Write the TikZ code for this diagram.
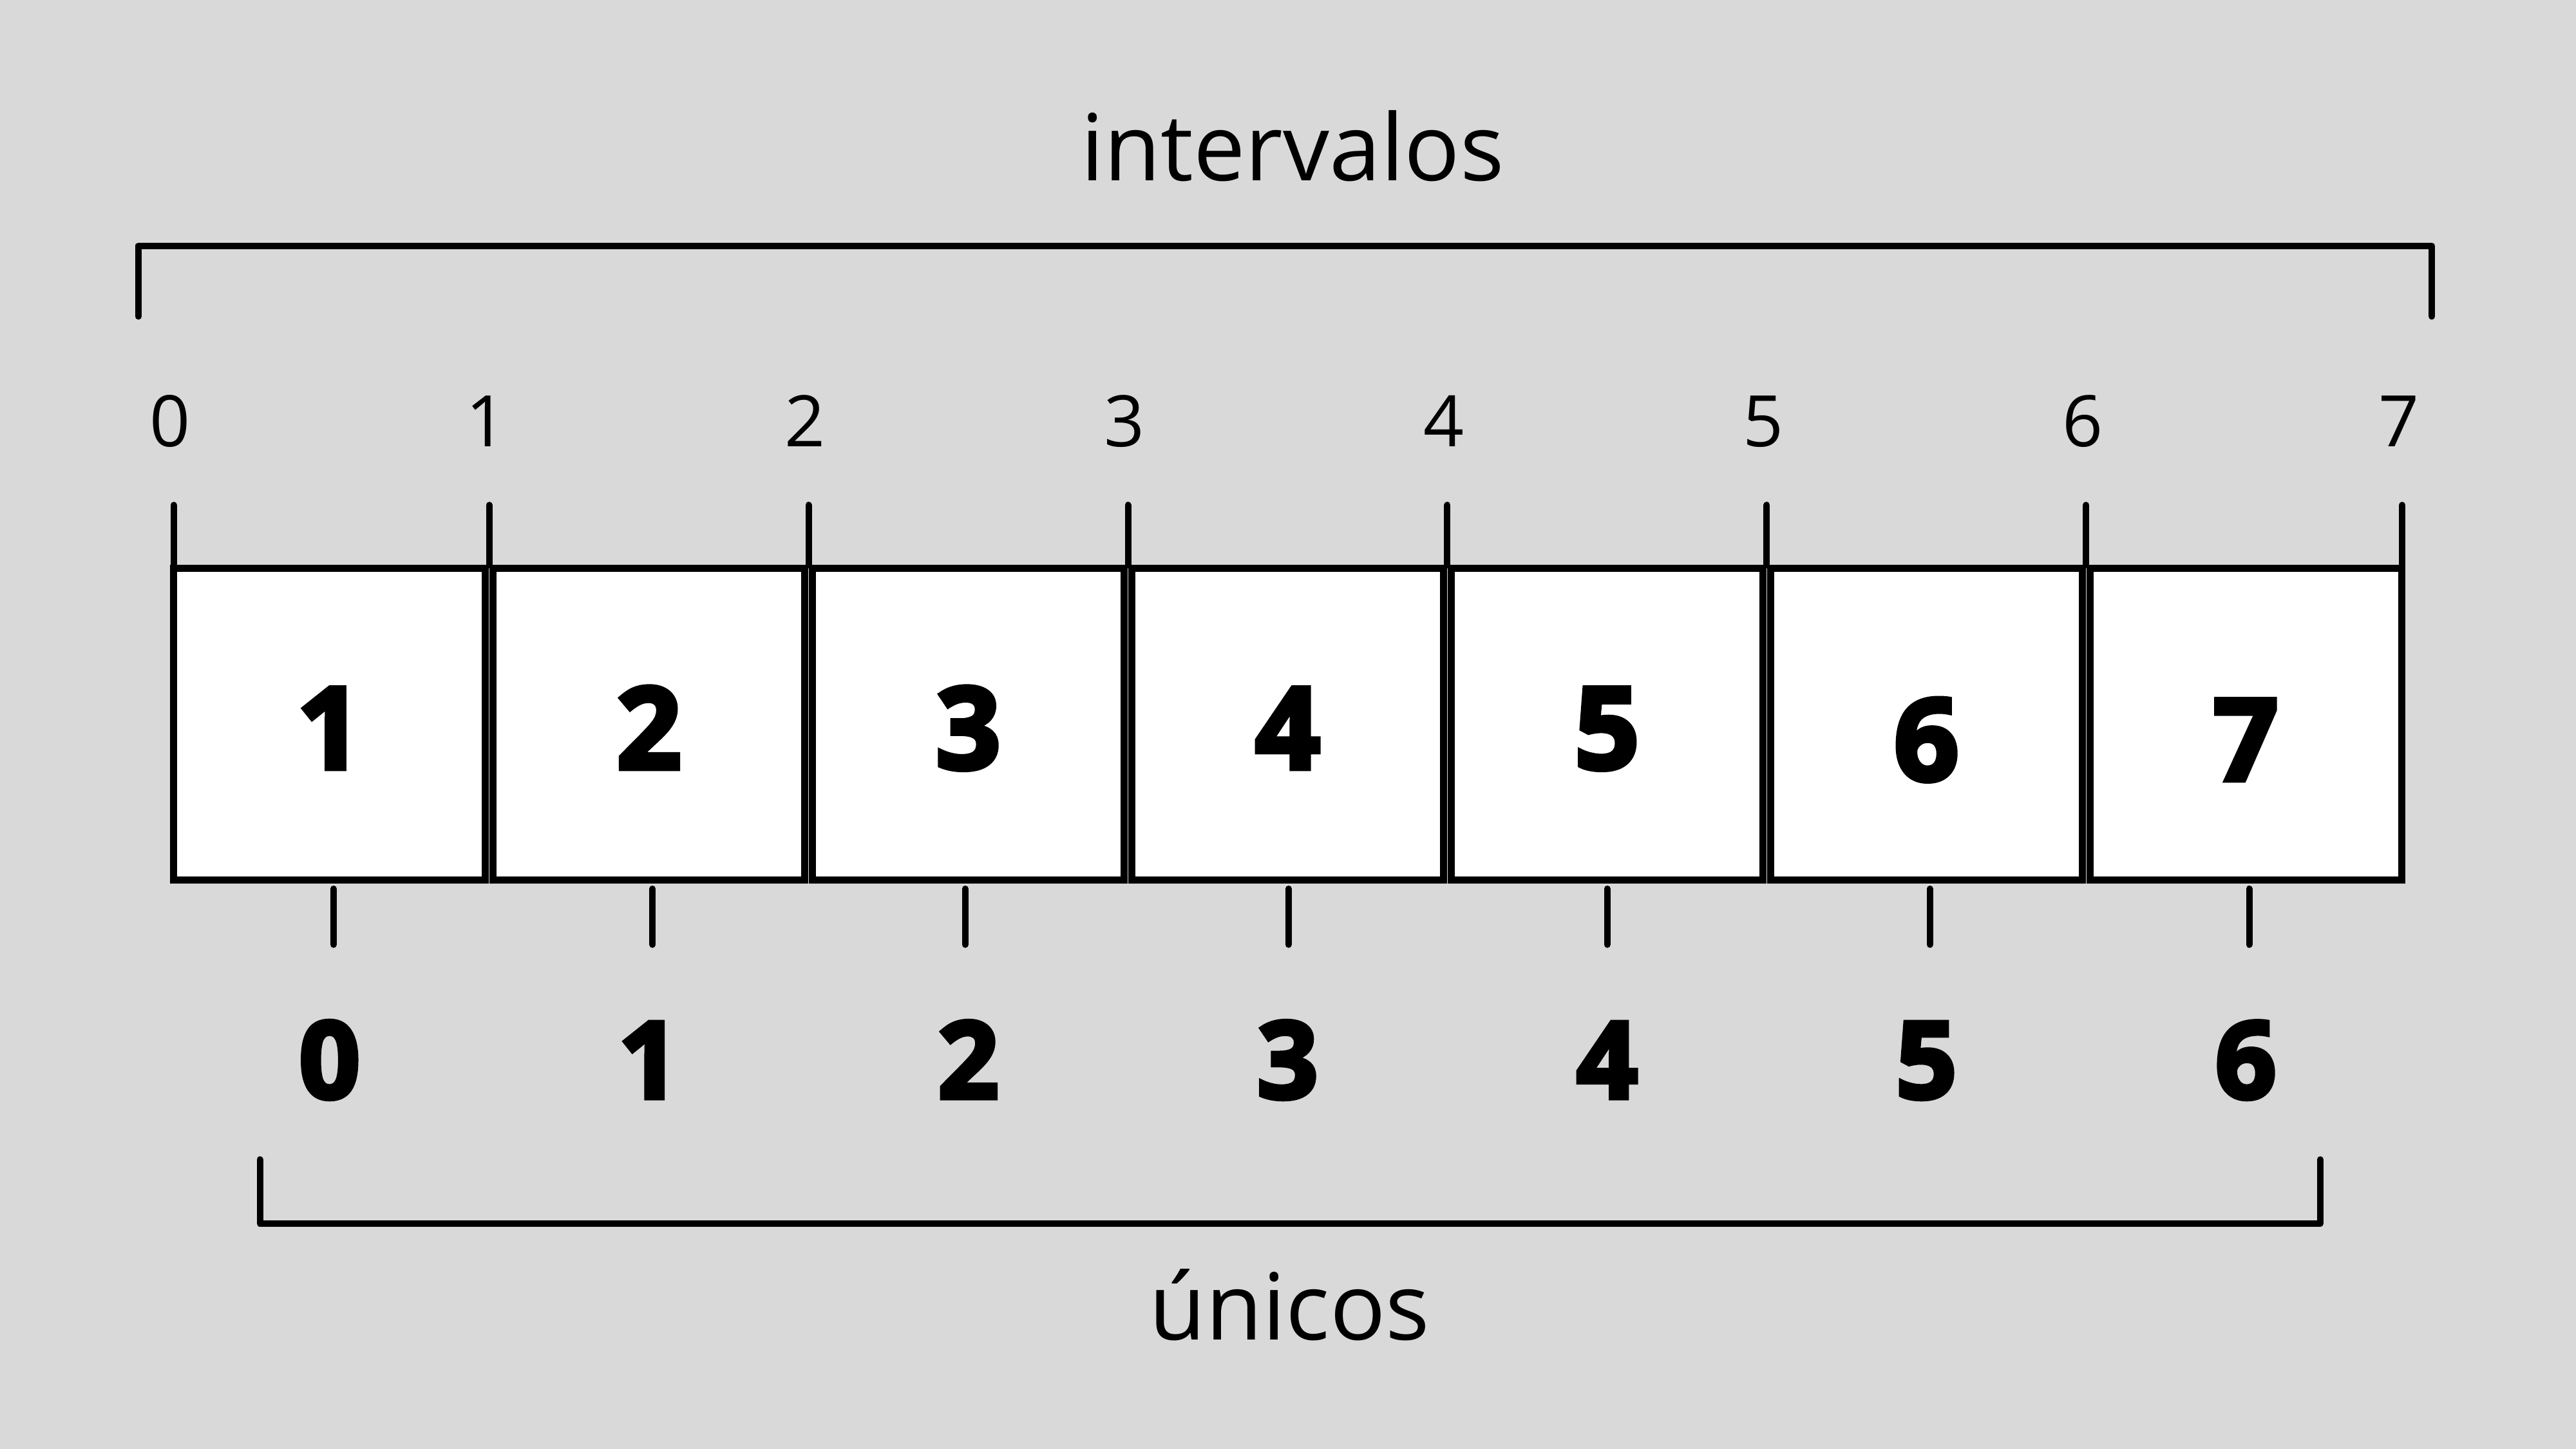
\documentclass[tikz,border=0pt]{standalone}
\usepackage{fontspec}
\setmainfont{Open Sans}
\newfontfamily\numfont{Open Sans}[BoldFeatures={FakeBold=4}]
\definecolor{bgray}{HTML}{D9D9D9}

\begin{document}
\begin{tikzpicture}
        [x=0.01cm,y=-0.01cm,line width=1.12pt,
         tick/.style={line cap=round},
         bracket/.style={line cap=round,line join=round},
         cell/.style={fill=white,line width=1.2pt},
         lbl/.style={anchor=base,inner sep=0pt,font=\fontsize{12.3}{14}\selectfont},
         title/.style={anchor=base,inner sep=0pt,font=\fontsize{16}{19}\selectfont},
         boxnum/.style={anchor=base,inner sep=0pt,font=\numfont\bfseries\fontsize{19.7}{22}\selectfont},
         idxnum/.style={anchor=base,inner sep=0pt,font=\numfont\bfseries\fontsize{18.5}{21}\selectfont}]
        \fill[bgray] (0,0) rectangle (1568,882);

        % intervalos
        \node[title] (intervalos) at (786.7,109.8) {intervalos};
        \coordinate (iL) at (84.2,149.6);
        \coordinate (iR) at (1480.2,149.6);
        \draw[bracket] ([yshift=-0.43cm]iL) -- (iL) -- (iR) -- ([yshift=-0.43cm]iR);

        \foreach \x [count=\n from 0] in {105.7,297.8,492.2,686.6,881,1075.4,1269.8,1462.2}
        {
          \node[lbl] (s\n) at (\x-2,272) {\n};
          \draw[tick] (\x,307.4) -- (\x,344);
        }

        % celdas
        \foreach \i/\yb in {1/468,2/468,3/468,4/468,5/468,6/475,7/475}
        {
          \pgfmathsetmacro\xl{105.7+(\i-1)*194.4}
          \draw[cell] (\xl,346) rectangle ++(189.8,189.8);
          \node[boxnum] (b\i) at (\xl+94.9,\yb) {\i};
        }

        % unicos
        \foreach \x in {203,397.2,587.5,784.3,978.3,1174.7,1369.1}
        {\draw[tick] (\x,541) -- (\x,575);}
        \foreach \n in {0,...,6}
        {
          \pgfmathsetmacro\xc{200.6+\n*194.4}
          \node[idxnum] (u\n) at (\xc,668.5) {\n};
        }

        \coordinate (uL) at (158.2,744.8);
        \coordinate (uR) at (1412.3,744.8);
        \draw[bracket] ([yshift=0.39cm]uL) -- (uL) -- (uR) -- ([yshift=0.39cm]uR);
        \node[title] (unicos) at (784.9,815.4) {únicos};
      \end{tikzpicture}
\end{document}
